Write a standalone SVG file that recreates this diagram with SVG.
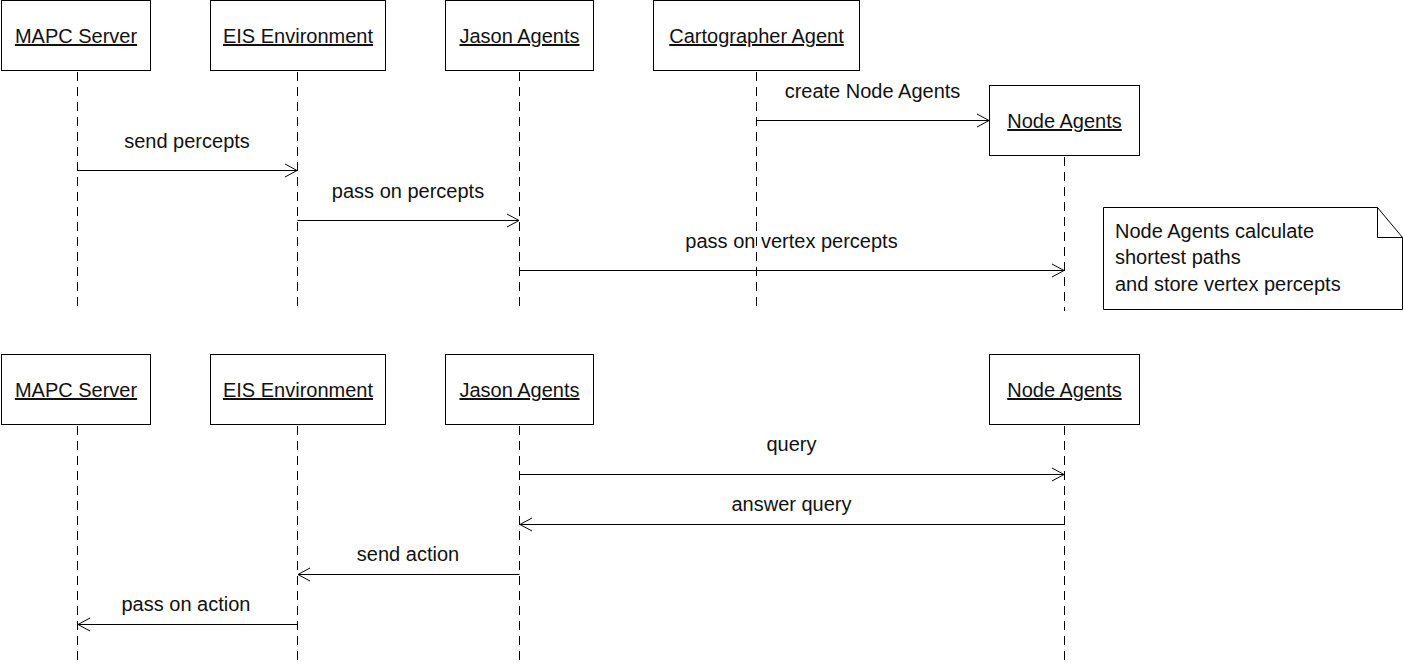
<svg xmlns="http://www.w3.org/2000/svg" width="1403" height="666" viewBox="0 0 1403 666">
<defs>
<style>
.box{fill:#fff;stroke:#000;stroke-width:1}
.life{stroke:#000;stroke-width:1;stroke-dasharray:9,6;fill:none}
.msg{stroke:#000;stroke-width:1;fill:none}
.head{stroke:#000;stroke-width:1;fill:none}
text{font-family:"Liberation Sans",Arial,sans-serif;font-size:20px;fill:#111}
.lbl{text-anchor:middle;text-decoration:underline}
.m{text-anchor:middle}
</style>
</defs>
<rect width="1403" height="666" fill="#fff"/>
<g id="lifelines">
<line class="life" x1="77.5" y1="72" x2="77.5" y2="311"/>
<line class="life" x1="297.5" y1="72" x2="297.5" y2="311"/>
<line class="life" x1="519.5" y1="72" x2="519.5" y2="311"/>
<line class="life" x1="756.5" y1="72" x2="756.5" y2="311"/>
<line class="life" x1="1064.5" y1="157" x2="1064.5" y2="311"/>
<line class="life" x1="77.5" y1="426" x2="77.5" y2="666"/>
<line class="life" x1="297.5" y1="426" x2="297.5" y2="666"/>
<line class="life" x1="519.5" y1="426" x2="519.5" y2="666"/>
<line class="life" x1="1064.5" y1="426" x2="1064.5" y2="666"/>
</g>
<g id="top-mapc"><rect class="box" x="1.5" y="0.5" width="149" height="70"/><text class="lbl" x="76" y="43">MAPC Server</text></g>
<g id="top-eis"><rect class="box" x="210.5" y="0.5" width="175" height="70"/><text class="lbl" x="298" y="43">EIS Environment</text></g>
<g id="top-jason"><rect class="box" x="445.5" y="0.5" width="148" height="70"/><text class="lbl" x="519.5" y="43">Jason Agents</text></g>
<g id="top-carto"><rect class="box" x="653.5" y="0.5" width="206" height="70"/><text class="lbl" x="756.5" y="43">Cartographer Agent</text></g>
<g id="top-node"><rect class="box" x="989.5" y="85.5" width="150" height="70"/><text class="lbl" x="1064.5" y="128">Node Agents</text></g>
<g id="note">
<path class="box" d="M1103.5,207.5 H1377.5 L1402.5,237.5 V309.5 H1103.5 Z"/>
<path class="msg" d="M1377.5,207.5 V237.5 H1402.5"/>
<text x="1115" y="238">Node Agents calculate</text>
<text x="1115" y="264">shortest paths</text>
<text x="1115" y="291">and store vertex percepts</text>
</g>
<g id="bot-mapc"><rect class="box" x="1.5" y="354.5" width="149" height="70"/><text class="lbl" x="76" y="397">MAPC Server</text></g>
<g id="bot-eis"><rect class="box" x="210.5" y="354.5" width="175" height="70"/><text class="lbl" x="298" y="397">EIS Environment</text></g>
<g id="bot-jason"><rect class="box" x="445.5" y="354.5" width="148" height="70"/><text class="lbl" x="519.5" y="397">Jason Agents</text></g>
<g id="bot-node"><rect class="box" x="989.5" y="354.5" width="150" height="70"/><text class="lbl" x="1064.5" y="397">Node Agents</text></g>
<g id="connectors">
<line class="msg" x1="756.5" y1="120.5" x2="989" y2="120.5"/><path class="head" d="M977,114 L989,120.5 L977,127"/>
<line class="msg" x1="77.5" y1="170.5" x2="297" y2="170.5"/><path class="head" d="M285,164 L297,170.5 L285,177"/>
<line class="msg" x1="297.5" y1="220.5" x2="519" y2="220.5"/><path class="head" d="M507,214 L519,220.5 L507,227"/>
<line class="msg" x1="519.5" y1="270.5" x2="1064" y2="270.5"/><path class="head" d="M1052,264 L1064,270.5 L1052,277"/>
<line class="msg" x1="519.5" y1="474.5" x2="1064" y2="474.5"/><path class="head" d="M1052,468 L1064,474.5 L1052,481"/>
<line class="msg" x1="1064.5" y1="524.5" x2="520" y2="524.5"/><path class="head" d="M532,518 L520,524.5 L532,531"/>
<line class="msg" x1="519.5" y1="574.5" x2="298" y2="574.5"/><path class="head" d="M310,568 L298,574.5 L310,581"/>
<line class="msg" x1="297.5" y1="624.5" x2="78" y2="624.5"/><path class="head" d="M90,618 L78,624.5 L90,631"/>
<text class="m" x="872.5" y="98">create Node Agents</text>
<text class="m" x="187" y="148">send percepts</text>
<text class="m" x="408" y="198">pass on percepts</text>
<text class="m" x="791.5" y="248">pass on vertex percepts</text>
<text class="m" x="791.5" y="451">query</text>
<text class="m" x="791.5" y="511">answer query</text>
<text class="m" x="408" y="561">send action</text>
<text class="m" x="186" y="611">pass on action</text>
</g>
</svg>
